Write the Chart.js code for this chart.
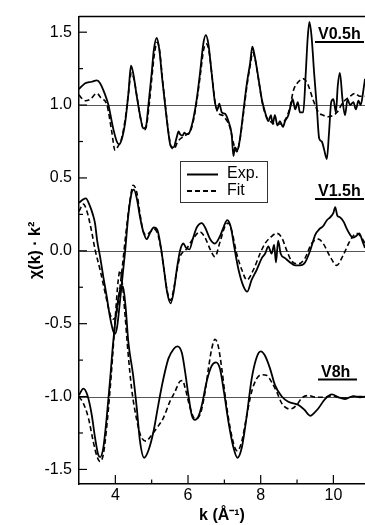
<!DOCTYPE html>
<html>
<head>
<meta charset="utf-8">
<script src="https://cdn.jsdelivr.net/npm/chart.js@4/dist/chart.umd.min.js"></script>
<style>
  body { margin: 0; background: #fff; }
  canvas { display: block; }
</style>
</head>
<body>
<canvas id="chart" width="365" height="525" style="width:365px;height:525px"></canvas>
<script>
// curves, [k, chi*k^2 + offset]
let v05Exp = [
  [3.00,1.11],[3.17,1.15],[3.35,1.16],[3.49,1.17],[3.58,1.15],[3.72,1.07],[3.81,1.00],[3.94,0.84],[4.04,0.75],[4.10,0.73],
  [4.17,0.76],[4.27,0.88],[4.36,1.08],[4.43,1.27],[4.49,1.22],[4.59,1.06],[4.68,0.93],[4.77,0.84],[4.84,0.85],[4.91,1.00],
  [5.00,1.22],[5.06,1.38],[5.14,1.46],[5.21,1.38],[5.29,1.18],[5.37,1.00],[5.46,0.81],[5.52,0.72],[5.60,0.71],[5.69,0.78],
  [5.74,0.82],[5.78,0.80],[5.85,0.79],[5.90,0.81],[5.95,0.80],[6.01,0.80],[6.08,0.84],[6.15,0.91],[6.24,1.04],[6.33,1.22],
  [6.42,1.42],[6.49,1.48],[6.56,1.42],[6.65,1.22],[6.74,1.02],[6.81,0.97],[6.86,1.01],[6.93,0.95],[7.02,0.94],[7.11,0.89],
  [7.20,0.80],[7.25,0.65],[7.29,0.71],[7.36,0.69],[7.43,0.77],[7.52,0.95],[7.62,1.15],[7.71,1.29],[7.77,1.40],[7.84,1.33],
  [7.94,1.18],[8.03,1.04],[8.12,0.95],[8.21,0.89],[8.28,0.93],[8.33,0.87],[8.39,0.93],[8.46,0.86],[8.53,0.89],[8.61,0.85],
  [8.67,0.89],[8.76,0.93],[8.83,1.00],[8.88,1.04],[8.95,0.97],[9.02,1.02],[9.08,0.95],[9.17,0.95],[9.24,1.22],[9.29,1.45],
  [9.34,1.57],[9.40,1.47],[9.47,1.22],[9.54,1.00],[9.61,0.77],[9.68,0.75],[9.74,0.70],[9.82,0.63],[9.88,0.81],[9.94,1.02],
  [10.00,1.04],[10.07,0.95],[10.12,1.13],[10.18,1.22],[10.25,1.04],[10.32,0.93],[10.39,1.04],[10.46,1.00],[10.55,1.02],
  [10.62,0.97],[10.69,1.03],[10.75,1.00],[10.83,1.11],[10.87,1.18]
];
let v05Fit = [
  [3.00,1.07],[3.10,1.04],[3.17,1.03],[3.31,1.04],[3.49,1.08],[3.60,1.05],[3.77,1.00],[3.90,0.82],[3.99,0.69],[4.08,0.72],
  [4.17,0.77],[4.27,0.90],[4.36,1.08],[4.44,1.22],[4.51,1.18],[4.60,1.05],[4.70,0.90],[4.79,0.83],[4.86,0.86],[4.93,1.00],
  [5.01,1.20],[5.08,1.36],[5.15,1.43],[5.22,1.37],[5.30,1.17],[5.38,0.99],[5.47,0.80],[5.54,0.71],[5.61,0.70],[5.72,0.75],
  [5.85,0.78],[5.98,0.80],[6.08,0.83],[6.17,0.92],[6.26,1.06],[6.35,1.23],[6.43,1.38],[6.50,1.42],[6.57,1.38],[6.66,1.20],
  [6.75,1.01],[6.85,0.94],[6.95,0.93],[7.05,0.90],[7.15,0.85],[7.25,0.74],[7.34,0.68],[7.42,0.75],[7.52,0.93],[7.62,1.13],
  [7.71,1.27],[7.78,1.36],[7.85,1.31],[7.95,1.16],[8.04,1.02],[8.14,0.93],[8.25,0.89],[8.40,0.87],[8.55,0.87],[8.70,0.91],
  [8.80,0.98],[8.90,1.10],[9.04,1.16],[9.18,1.18],[9.30,1.14],[9.45,1.03],[9.59,0.95],[9.72,0.93],[9.85,0.92],[10.00,0.93],
  [10.10,0.95],[10.27,1.02],[10.46,1.06],[10.59,1.08],[10.73,1.06],[10.87,1.06]
];
let v15Exp = [
  [3.00,0.33],[3.10,0.35],[3.19,0.36],[3.28,0.32],[3.38,0.25],[3.44,0.19],[3.50,0.07],[3.58,-0.04],[3.67,-0.18],[3.76,-0.31],
  [3.85,-0.45],[3.94,-0.55],[3.99,-0.57],[4.05,-0.52],[4.13,-0.34],[4.27,0.00],[4.36,0.25],[4.45,0.40],[4.51,0.42],[4.59,0.36],
  [4.68,0.23],[4.77,0.13],[4.86,0.08],[4.95,0.12],[5.06,0.16],[5.16,0.14],[5.25,0.03],[5.34,-0.13],[5.43,-0.29],[5.52,-0.36],
  [5.60,-0.29],[5.69,-0.13],[5.78,0.00],[5.87,0.05],[5.95,0.02],[6.04,0.01],[6.13,0.08],[6.24,0.16],[6.38,0.19],[6.47,0.16],
  [6.61,0.08],[6.74,0.05],[6.88,0.10],[6.99,0.17],[7.08,0.21],[7.18,0.16],[7.27,0.03],[7.39,-0.13],[7.52,-0.24],[7.63,-0.28],
  [7.75,-0.20],[7.89,-0.13],[8.03,-0.05],[8.12,-0.02],[8.21,0.03],[8.30,-0.02],[8.37,0.04],[8.42,-0.08],[8.48,0.07],[8.55,-0.02],
  [8.67,-0.05],[8.81,-0.08],[8.95,-0.10],[9.08,-0.10],[9.22,-0.08],[9.36,0.00],[9.50,0.11],[9.62,0.15],[9.72,0.17],[9.82,0.21],
  [9.91,0.23],[10.00,0.26],[10.05,0.30],[10.11,0.24],[10.18,0.23],[10.28,0.20],[10.37,0.15],[10.46,0.11],[10.53,0.09],
  [10.62,0.10],[10.71,0.12],[10.81,0.06],[10.87,0.02]
];
let v15Fit = [
  [3.00,0.27],[3.12,0.32],[3.22,0.27],[3.35,0.13],[3.44,0.01],[3.58,-0.13],[3.72,-0.29],[3.85,-0.43],[3.93,-0.47],[4.03,-0.43],
  [4.17,-0.16],[4.29,0.12],[4.40,0.34],[4.49,0.45],[4.59,0.40],[4.68,0.25],[4.77,0.13],[4.86,0.11],[4.96,0.13],[5.06,0.15],
  [5.16,0.12],[5.25,0.02],[5.34,-0.13],[5.43,-0.28],[5.52,-0.34],[5.60,-0.27],[5.69,-0.14],[5.78,-0.04],[5.95,0.01],[6.13,0.08],
  [6.33,0.13],[6.47,0.09],[6.61,0.01],[6.74,-0.04],[6.88,0.06],[7.02,0.17],[7.11,0.19],[7.20,0.14],[7.34,-0.02],[7.48,-0.13],
  [7.62,-0.20],[7.80,-0.13],[7.98,-0.02],[8.12,0.05],[8.26,0.09],[8.44,0.12],[8.58,0.09],[8.72,0.00],[8.85,-0.07],[9.04,-0.09],
  [9.22,-0.05],[9.40,0.05],[9.59,0.08],[9.72,0.05],[9.91,-0.04],[10.09,-0.10],[10.27,-0.03],[10.46,0.07],[10.64,0.12],
  [10.78,0.09],[10.87,0.05]
];
let v8Exp = [
  [3.00,-0.99],[3.12,-0.945],[3.23,-0.99],[3.35,-1.125],[3.44,-1.28],[3.53,-1.40],[3.58,-1.415],[3.67,-1.35],[3.76,-1.15],
  [3.85,-0.90],[3.94,-0.63],[4.05,-0.38],[4.14,-0.26],[4.21,-0.245],[4.28,-0.38],[4.36,-0.63],[4.49,-0.855],[4.59,-1.08],
  [4.68,-1.31],[4.79,-1.42],[4.91,-1.37],[5.05,-1.24],[5.18,-1.06],[5.32,-0.88],[5.46,-0.74],[5.60,-0.675],[5.71,-0.656],
  [5.83,-0.70],[5.92,-0.83],[6.01,-0.99],[6.10,-1.125],[6.19,-1.16],[6.28,-1.14],[6.38,-1.06],[6.51,-0.90],[6.65,-0.79],
  [6.77,-0.765],[6.88,-0.81],[6.99,-0.97],[7.11,-1.17],[7.25,-1.35],[7.36,-1.42],[7.48,-1.35],[7.62,-1.125],[7.75,-0.88],
  [7.89,-0.73],[8.00,-0.69],[8.12,-0.72],[8.26,-0.81],[8.39,-0.92],[8.58,-1.00],[8.76,-1.036],[9.04,-1.058],[9.20,-1.09],
  [9.36,-1.132],[9.48,-1.11],[9.59,-1.08],[9.77,-1.017],[9.96,-0.985],[10.14,-1.005],[10.32,-1.017],[10.55,-0.997],
  [10.73,-1.005],[10.87,-1.00]
];
let v8Fit = [
  [3.00,-1.00],[3.12,-1.047],[3.26,-1.148],[3.39,-1.306],[3.49,-1.407],[3.58,-1.446],[3.67,-1.396],[3.76,-1.216],[3.85,-0.967],
  [3.92,-0.742],[4.00,-0.45],[4.08,-0.20],[4.13,-0.135],[4.19,-0.22],[4.27,-0.45],[4.35,-0.70],[4.45,-0.95],[4.58,-1.15],
  [4.70,-1.27],[4.84,-1.306],[4.98,-1.27],[5.14,-1.216],[5.32,-1.148],[5.50,-1.035],[5.64,-0.967],[5.78,-0.895],[5.85,-0.89],
  [5.92,-0.94],[6.06,-1.08],[6.19,-1.152],[6.33,-1.125],[6.47,-0.967],[6.56,-0.81],[6.65,-0.675],[6.74,-0.607],[6.83,-0.652],
  [6.93,-0.81],[7.02,-0.99],[7.16,-1.216],[7.29,-1.351],[7.36,-1.373],[7.48,-1.306],[7.62,-1.125],[7.75,-0.967],[7.89,-0.877],
  [8.03,-0.85],[8.17,-0.855],[8.30,-0.90],[8.44,-0.967],[8.58,-1.047],[8.72,-1.08],[8.81,-1.085],[8.99,-1.058],[9.13,-1.01],
  [9.31,-0.993],[9.54,-1.005],[9.72,-1.005],[9.96,-0.995],[10.14,-1.005],[10.32,-1.01],[10.55,-1.00],[10.87,-1.00]
];

let sampleNames = ['V0.5h', 'V1.5h', 'V8h'];
let offsets = [1, 0, -1];
let legendNames = ['Exp.', 'Fit'];

let kTicks = [4, 6, 8, 10];
let kMinor = [5, 7, 9];
let yTicks = [-1.5, -1, -0.5, 0, 0.5, 1, 1.5];
let yMinor = [-1.25, -0.75, -0.25, 0.25, 0.75, 1.25];

const FONT = "'Liberation Sans', Arial, Helvetica, sans-serif";

function toPts(arr) {
  return arr.map(p => ({x: p[0], y: p[1]}));
}

function line(ctx, x1, y1, x2, y2) {
  ctx.beginPath();
  ctx.moveTo(x1, y1);
  ctx.lineTo(x2, y2);
  ctx.stroke();
}

// baselines, ticks pointing in, top frame, legend box and sample labels
const decor = {
  id: 'decor',
  beforeDatasetsDraw(chart) {
    const {ctx, chartArea: a, scales: {y}} = chart;
    ctx.save();
    ctx.strokeStyle = '#555';
    ctx.lineWidth = 1.2;
    offsets.forEach(o => {
      const py = Math.round(y.getPixelForValue(o)) + 0.5;
      line(ctx, a.left, py, a.right, py);
    });
    ctx.restore();
  },
  afterDraw(chart) {
    const {ctx, chartArea: a, scales: {x, y}} = chart;
    ctx.save();
    ctx.strokeStyle = '#000';
    ctx.lineWidth = 1.5;
    line(ctx, a.left, a.top, a.right, a.top);

    ctx.lineWidth = 1.2;
    kTicks.forEach(v => { const px = x.getPixelForValue(v); line(ctx, px, a.bottom, px, a.bottom - 9); });
    kMinor.forEach(v => { const px = x.getPixelForValue(v); line(ctx, px, a.bottom, px, a.bottom - 4.5); });
    yTicks.forEach(v => { const py = y.getPixelForValue(v); line(ctx, a.left, py, a.left + 8, py); });
    yMinor.forEach(v => { const py = y.getPixelForValue(v); line(ctx, a.left, py, a.left + 4, py); });

    // legend
    ctx.fillStyle = '#fff';
    ctx.fillRect(180.5, 161.5, 87, 41);
    ctx.strokeStyle = '#333';
    ctx.lineWidth = 1;
    ctx.strokeRect(180.5, 161.5, 87, 41);
    ctx.strokeStyle = '#000';
    ctx.lineWidth = 2;
    line(ctx, 187, 174.5, 218, 174.5);
    ctx.setLineDash([5, 3]);
    line(ctx, 187, 191, 218, 191);
    ctx.setLineDash([]);
    ctx.fillStyle = '#000';
    ctx.font = '16px ' + FONT;
    ctx.textBaseline = 'middle';
    ctx.fillText(legendNames[0], 227, 174);
    ctx.fillText(legendNames[1], 227, 191);

    // sample labels, underlined
    const lab = [[318, 39, 363], [318, 196, 363], [321, 376.5, 356]];
    ctx.font = 'bold 16px ' + FONT;
    ctx.textBaseline = 'alphabetic';
    ctx.lineWidth = 1.8;
    sampleNames.forEach((t, i) => {
      const [lx, ly, rx] = lab[i];
      ctx.fillText(t, lx, ly);
      line(ctx, lx - 3, ly + 3, rx + 1, ly + 3);
    });
    ctx.restore();
  }
};

let series = [
  {name: 'V0.5h ' + legendNames[0], data: v05Exp, dash: []},
  {name: 'V0.5h ' + legendNames[1], data: v05Fit, dash: [5, 3]},
  {name: 'V1.5h ' + legendNames[0], data: v15Exp, dash: []},
  {name: 'V1.5h ' + legendNames[1], data: v15Fit, dash: [5, 3]},
  {name: 'V8h ' + legendNames[0], data: v8Exp, dash: []},
  {name: 'V8h ' + legendNames[1], data: v8Fit, dash: [5, 3]}
];

let chartEl = document.getElementById('chart');

let chart = new Chart(chartEl, {
  type: 'line',
  data: {
    datasets: series.map(s => ({
      label: s.name,
      data: toPts(s.data),
      borderColor: '#000',
      borderWidth: s.dash.length ? 1.6 : 1.8,
      borderDash: s.dash,
      pointRadius: 0,
      fill: false,
      tension: 0.3,
      cubicInterpolationMode: 'monotone'
    }))
  },
  options: {
    responsive: false,
    animation: false,
    layout: { padding: { top: 10, right: 0, left: 0, bottom: 0 } },
    plugins: {
      legend: { display: false },
      tooltip: { enabled: false }
    },
    scales: {
      x: {
        type: 'linear',
        min: 3,
        max: 10.87,
        afterBuildTicks: s => { s.ticks = kTicks.map(v => ({value: v})); },
        afterFit: s => { s.height = 41; },
        grid: { display: false, drawTicks: false },
        border: { display: true, color: '#000', width: 1.5 },
        ticks: { color: '#000', padding: 2, maxRotation: 0, font: { family: FONT, size: 16 } },
        title: {
          display: true,
          text: 'k (Å⁻¹)',
          color: '#000',
          font: { family: FONT, size: 16, weight: 'bold' },
          padding: { top: 0, bottom: 0 }
        }
      },
      y: {
        min: -1.6,
        max: 1.607,
        afterBuildTicks: s => { s.ticks = yTicks.map(v => ({value: v})); },
        afterFit: s => { s.width = 79; },
        grid: { display: false, drawTicks: false },
        border: { display: true, color: '#000', width: 1.5 },
        ticks: { color: '#000', padding: 7, font: { family: FONT, size: 16 }, callback: v => v.toFixed(1) },
        title: {
          display: true,
          text: 'χ(k) · k²',
          color: '#000',
          font: { family: FONT, size: 16, weight: 'bold' },
          padding: { top: 26, bottom: 0 }
        }
      }
    }
  },
  plugins: [decor]
});
</script>
</body>
</html>
